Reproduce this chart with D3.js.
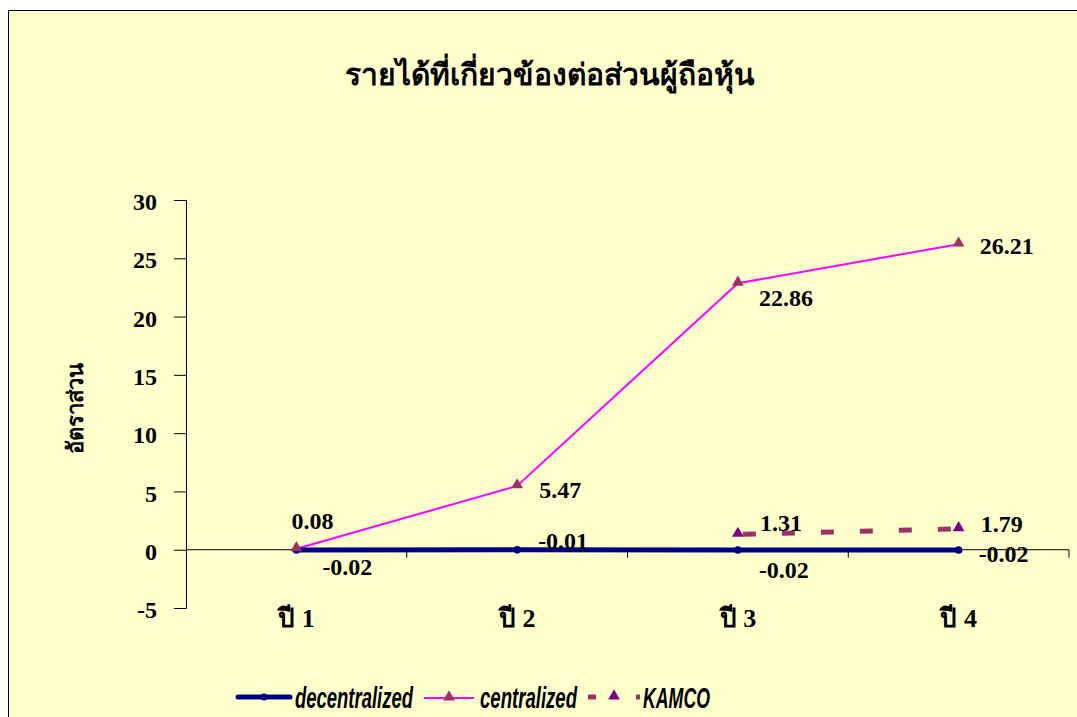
<!DOCTYPE html>
<html lang="th">
<head>
    <meta charset="UTF-8">
    <title>รายได้ที่เกี่ยวข้องต่อส่วนผู้ถือหุ้น</title>
    <script src="https://cdn.jsdelivr.net/npm/d3@7/dist/d3.min.js"></script>
    <style>
        body { margin: 0; background: #fff; }
        svg { display: block; }
    </style>
</head>
<body>
<script type="application/javascript">
    // data
    const categories = ['ปี 1', 'ปี 2', 'ปี 3', 'ปี 4'];
    const decentralized = [-0.02, -0.01, -0.02, -0.02];
    const centralized = [0.08, 5.47, 22.86, 26.21];
    const kamco = [null, null, 1.31, 1.79];
    const yTicks = [-5, 0, 5, 10, 15, 20, 25, 30];

    // label offsets (dx, dy) from each point
    const decLabelOff = [[26, 25], [21, -1], [21, 28], [20, 12]];
    const cenLabelOff = [[-5, -20], [22, 12], [21, 23], [21, 10]];
    const kamLabelOff = [null, null, [22, -3], [22, 3]];

    const w = 1077, h = 717;
    const serif = '"Times New Roman", "Liberation Serif", serif';
    const sans = 'Arial, "Liberation Sans", sans-serif';

    let svg = d3.select('body')
        .append('svg')
        .attr('width', w)
        .attr('height', h);

    // chart frame
    svg.append('rect')
        .attr('x', 8.5).attr('y', 10.5)
        .attr('width', 1100).attr('height', 800)
        .attr('fill', '#FFFFCC')
        .attr('stroke', '#000')
        .attr('stroke-width', 1);

    svg.append('text')
        .text('รายได้ที่เกี่ยวข้องต่อส่วนผู้ถือหุ้น')
        .attr('x', 550).attr('y', 85)
        .attr('text-anchor', 'middle')
        .attr('font-family', serif)
        .attr('font-weight', 'bold')
        .attr('font-size', '30px');

    let xScale = d3.scaleBand()
        .domain(categories)
        .range([186, 1069]);

    let yScale = d3.scaleLinear()
        .domain([-5, 30])
        .range([608, 200]);

    const cx = i => xScale(categories[i]) + xScale.bandwidth() / 2;

    // y axis
    let yAxis = svg.append('g')
        .attr('transform', 'translate(186,0)')
        .call(d3.axisLeft(yScale).tickValues(yTicks).tickSize(12).tickPadding(17).tickFormat(d => String(d)));
    yAxis.selectAll('text')
        .attr('font-family', serif)
        .attr('font-weight', 'bold')
        .attr('font-size', '24px')
        .attr('fill', '#000')
        .attr('dy', '0.4em');
    yAxis.select('.domain').attr('stroke', '#000');
    yAxis.selectAll('line').attr('stroke', '#000');

    // x axis at zero, ticks between categories
    let xg = svg.append('g');
    xg.append('line')
        .attr('x1', 186).attr('x2', 1069)
        .attr('y1', yScale(0)).attr('y2', yScale(0))
        .attr('stroke', '#000');
    xg.selectAll('line.tick')
        .data(categories)
        .enter()
        .append('line')
        .attr('class', 'tick')
        .attr('x1', d => xScale(d) + xScale.bandwidth())
        .attr('x2', d => xScale(d) + xScale.bandwidth())
        .attr('y1', yScale(0)).attr('y2', yScale(0) + 8)
        .attr('stroke', '#000');
    xg.selectAll('text')
        .data(categories)
        .enter()
        .append('text')
        .text(d => d)
        .attr('x', d => xScale(d) + xScale.bandwidth() / 2)
        .attr('y', 627)
        .attr('text-anchor', 'middle')
        .attr('font-family', serif)
        .attr('font-weight', 'bold')
        .attr('font-size', '26px');

    // y title
    svg.append('text')
        .text('อัตราส่วน')
        .attr('transform', 'translate(83,408) rotate(-90)')
        .attr('text-anchor', 'middle')
        .attr('font-family', serif)
        .attr('font-weight', 'bold')
        .attr('font-size', '22px');

    const line = d3.line()
        .defined(d => d !== null)
        .x((d, i) => cx(i))
        .y(d => yScale(d));

    const tri = d3.symbol().type(d3.symbolTriangle).size(60);

    // KAMCO
    svg.append('path')
        .datum(kamco)
        .attr('d', line)
        .attr('fill', 'none')
        .attr('stroke', '#993366')
        .attr('stroke-width', 5)
        .attr('stroke-dasharray', '13,26')
        .attr('stroke-dashoffset', -5);
    svg.selectAll('path.kam')
        .data(kamco.map((v, i) => ({v, i})).filter(d => d.v !== null))
        .enter()
        .append('path')
        .attr('class', 'kam')
        .attr('d', tri)
        .attr('transform', d => `translate(${cx(d.i)},${yScale(d.v) - 1})`)
        .attr('fill', '#800080');

    // centralized
    svg.append('path')
        .datum(centralized)
        .attr('d', line)
        .attr('fill', 'none')
        .attr('stroke', '#FF00FF')
        .attr('stroke-width', 2);

    // decentralized
    svg.append('path')
        .datum(decentralized)
        .attr('d', line)
        .attr('fill', 'none')
        .attr('stroke', '#000080')
        .attr('stroke-width', 5);
    svg.selectAll('circle.dec')
        .data(decentralized)
        .enter()
        .append('circle')
        .attr('class', 'dec')
        .attr('cx', (d, i) => cx(i))
        .attr('cy', d => yScale(d))
        .attr('r', 3.8)
        .attr('fill', '#000080');

    svg.selectAll('path.cen')
        .data(centralized)
        .enter()
        .append('path')
        .attr('class', 'cen')
        .attr('d', tri)
        .attr('transform', (d, i) => `translate(${cx(i)},${yScale(d) - 1})`)
        .attr('fill', '#993366');

    // data labels
    const addLabels = (vals, offs, cls) => {
        svg.selectAll('text.' + cls)
            .data(vals.map((v, i) => ({v, i})).filter(d => d.v !== null))
            .enter()
            .append('text')
            .attr('class', cls)
            .text(d => d.v.toFixed(2))
            .attr('x', d => cx(d.i) + offs[d.i][0])
            .attr('y', d => yScale(d.v) + offs[d.i][1])
            .attr('font-family', serif)
            .attr('font-weight', 'bold')
            .attr('font-size', '24px');
    };
    addLabels(decentralized, decLabelOff, 'ldec');
    addLabels(centralized, cenLabelOff, 'lcen');
    addLabels(kamco, kamLabelOff, 'lkam');

    // legend
    let lg = svg.append('g');
    lg.append('line')
        .attr('x1', 238).attr('x2', 290).attr('y1', 697).attr('y2', 697)
        .attr('stroke', '#000080').attr('stroke-width', 5).attr('stroke-linecap', 'round');
    lg.append('circle').attr('cx', 264).attr('cy', 697).attr('r', 3.5).attr('fill', '#000080');
    lg.append('line')
        .attr('x1', 424).attr('x2', 474).attr('y1', 698).attr('y2', 698)
        .attr('stroke', '#FF00FF').attr('stroke-width', 2);
    lg.append('path').attr('d', tri).attr('transform', 'translate(449,697)').attr('fill', '#993366');
    lg.append('line')
        .attr('x1', 588).attr('x2', 640).attr('y1', 697).attr('y2', 697)
        .attr('stroke', '#993366').attr('stroke-width', 5).attr('stroke-dasharray', '8,40');
    lg.append('path').attr('d', tri).attr('transform', 'translate(614,696)').attr('fill', '#800080');

    const legendText = [['decentralized', 295, 118], ['centralized', 480, 97], ['KAMCO', 643, 67]];
    lg.selectAll('text')
        .data(legendText)
        .enter()
        .append('text')
        .text(d => d[0])
        .attr('x', d => d[1])
        .attr('y', 708)
        .attr('textLength', d => d[2])
        .attr('lengthAdjust', 'spacingAndGlyphs')
        .attr('font-family', sans)
        .attr('font-style', 'italic')
        .attr('font-weight', 'bold')
        .attr('font-size', '29px');
</script>
</body>
</html>
